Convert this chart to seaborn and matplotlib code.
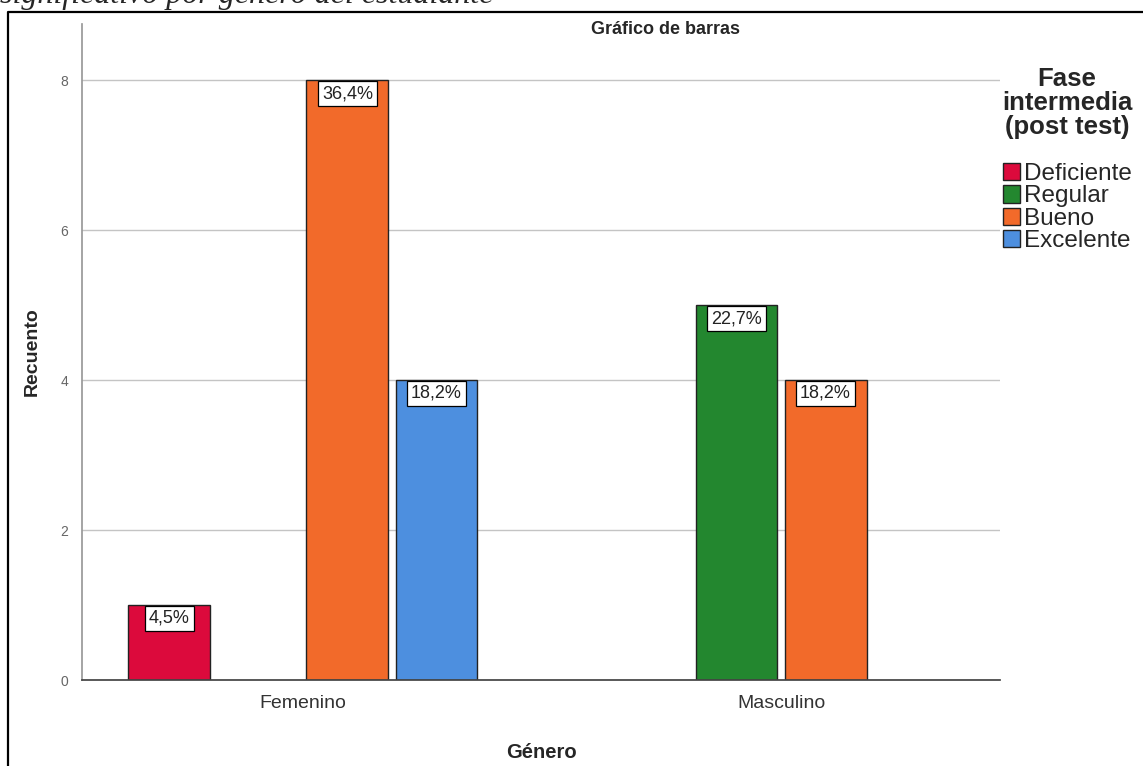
import pandas as pd
import matplotlib
matplotlib.use("Agg")
import matplotlib.pyplot as plt
from matplotlib.lines import Line2D
import seaborn as sns

# datos
genero = ["Femenino", "Femenino", "Femenino", "Masculino", "Masculino"]
fase = ["Deficiente", "Bueno", "Excelente", "Regular", "Bueno"]
recuento = [1, 8, 4, 5, 4]

niveles = ["Deficiente", "Regular", "Bueno", "Excelente"]
colores = ["#DC0A3C", "#23872F", "#F26A2A", "#4D8FDF"]
total = sum(recuento)

df = pd.DataFrame({"Género": genero, "Fase": fase, "Recuento": recuento})

sns.set_theme(style="white")
plt.rcParams["font.family"] = ["Liberation Sans", "DejaVu Sans"]

fig = plt.figure(figsize=(11.43, 7.66), dpi=100)
ax = fig.add_axes([82 / 1143, 1 - 680 / 766, 918 / 1143, 656 / 766])

sns.barplot(data=df, x="Género", y="Recuento", hue="Fase",
            order=["Femenino", "Masculino"], hue_order=niveles,
            palette=colores, width=0.745, gap=0.08,
            edgecolor="#222222", linewidth=1, ax=ax, saturation=1)

for cont in ax.containers:
    for bar in cont:
        h = bar.get_height()
        if h <= 0:
            continue
        txt = f"{h / total * 100:.1f}%".replace(".", ",")
        ax.annotate(txt, (bar.get_x() + bar.get_width() / 2, h),
                    xytext=(0, -3.5), textcoords="offset points",
                    ha="center", va="top", fontsize=13, color="#222222",
                    bbox=dict(boxstyle="square,pad=0.22", fc="white",
                              ec="black", lw=0.9))

ax.set_xlim(-0.462, 1.458)
ax.set_ylim(0, 8.75)
ax.set_yticks([0, 2, 4, 6, 8])
ax.yaxis.grid(True, color="#c4c4c4", lw=1)
ax.set_axisbelow(True)
ax.tick_params(axis="y", length=0, pad=10, labelsize=10, labelcolor="#666666")
ax.tick_params(axis="x", length=0, pad=11, labelsize=14, labelcolor="#333333")
for s in ["top", "right"]:
    ax.spines[s].set_visible(False)
ax.spines["left"].set_color("#999999")
ax.spines["bottom"].set_color("#444444")

ax.set_xlabel("Género", fontsize=14.5, fontweight="bold", labelpad=22)
ax.set_ylabel("Recuento", fontsize=14, fontweight="bold", labelpad=14)

sns.move_legend(ax, loc="upper left", bbox_to_anchor=(1.002, 0.935),
                title="Fase\nintermedia\n(post test)\n", frameon=False,
                fontsize=17.5, title_fontproperties={"weight": "bold", "size": 18.5},
                handlelength=0.72, handleheight=0.72, handletextpad=0.15,
                labelspacing=0.01, borderpad=0, borderaxespad=0,
                alignment="center")
leg = ax.get_legend()
leg.get_title().set_linespacing(1.0)
leg.get_title().set_multialignment("center")

fig.text(665 / 1143, 1 - 30 / 766, "Gráfico de barras", ha="center",
         va="center", fontsize=13, fontweight="bold")
fig.text(0.0, 1 - 3 / 766, "significativo por género del estudiante",
         fontsize=23, style="italic", family="Liberation Serif", va="baseline")

fig.add_artist(Line2D([8 / 1143, 8 / 1143, 1.0], [0.0, 1 - 12 / 766, 1 - 12 / 766],
                      transform=fig.transFigure, color="black", lw=1.6))

fig.savefig("out.png", dpi=100)
